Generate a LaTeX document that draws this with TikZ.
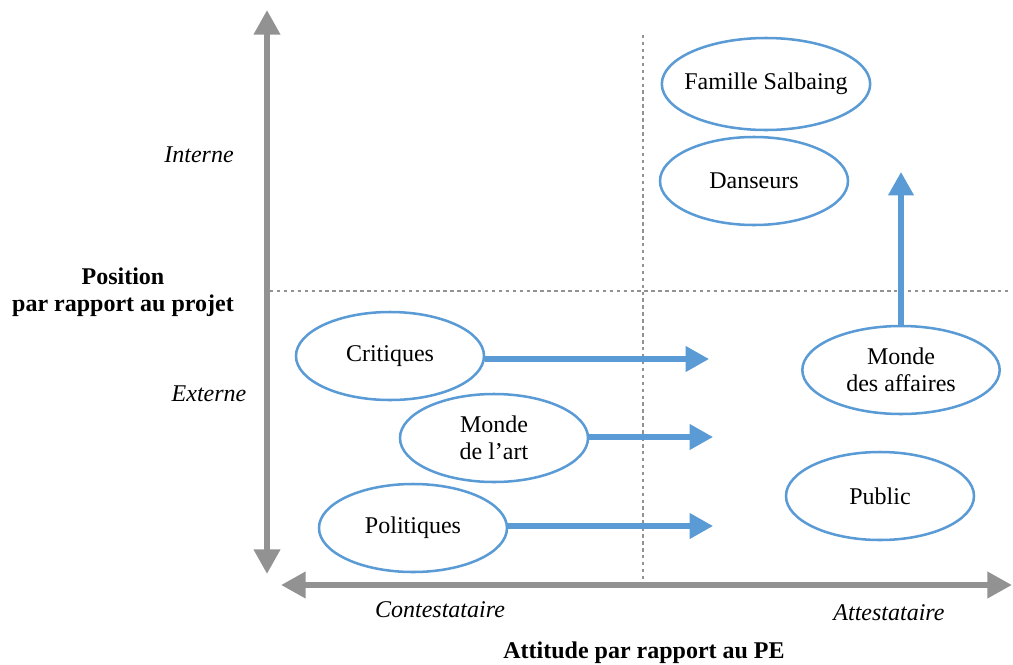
\documentclass[tikz,border=0pt]{standalone}
\usepackage{fontspec}
\setmainfont{Liberation Serif}
\usetikzlibrary{shapes.geometric,arrows.meta}

\definecolor{axisgray}{RGB}{146,146,146}
\definecolor{groupblue}{RGB}{91,155,213}

\tikzset{
	group/.style={draw=groupblue, line width=1.9pt, ellipse, inner sep=0pt,
		minimum width=141pt, minimum height=66pt, align=center},
	axis/.style={draw=axisgray, line width=4.5pt,
		{Triangle[length=18.5pt, width=19pt]}-{Triangle[length=18.5pt, width=19pt]}},
	move/.style={draw=groupblue, line width=3.8pt,
		-{Triangle[length=17.5pt, width=18.5pt]}},
	split/.style={draw=axisgray, line width=1.2pt, dash pattern=on 2.6pt off 2.6pt},
	lbl/.style={inner sep=0pt, align=center}
}

\begin{document}
\begin{tikzpicture}[x=0.75pt, y=-0.75pt, font=\fontsize{18}{20}\selectfont]
\useasboundingbox (0,0) rectangle (1013,664);

% axis ends
	\coordinate (vtop) at (267,10);
	\coordinate (vbot) at (267,574);
	\coordinate (hleft) at (281,585);
	\coordinate (hright) at (1012,585);
% quadrant lines
	\coordinate (qtop) at (643,35);
	\coordinate (qbot) at (643,583);
	\coordinate (qleft) at (270,291);
	\coordinate (qright) at (1010,291);

	\draw[split] (qtop) -- (qbot);
	\draw[split] (qleft) -- (qright);

% draw axes
	\draw[axis] (vbot) -- (vtop);
	\draw[axis] (hleft) -- (hright);

% axis labels
	\node[lbl, font=\fontsize{18}{20}\itshape] (interne) at (199,155) {Interne};
	\node[lbl, font=\fontsize{18}{20}\itshape] (externe) at (209,394) {Externe};
	\node[lbl, font=\fontsize{18}{20}\bfseries] (ytitle) at (123,292) {Position\\par rapport au projet};
	\node[lbl, font=\fontsize{18}{20}\itshape] (contest) at (440,610) {Contestataire};
	\node[lbl, font=\fontsize{18}{20}\itshape] (attest) at (889,613) {Attestataire};
	\node[lbl, font=\fontsize{18}{20}\bfseries] (xtitle) at (644,653) {Attitude par rapport au PE};

% groups
	\node[group, inner xsep=-6pt, minimum height=69pt] (famille) at (766,84) {Famille Salbaing};
	\node[group] (danseurs) at (754,181) {Danseurs};
	\node[group] (critiques) at (390,356) {Critiques};
	\node[group] (art) at (494,438) {Monde\\de l'art};
	\node[group] (politiques) at (413,528) {Politiques};
	\node[group, minimum width=148pt] (affaires) at (901,370) {Monde\\des affaires};
	\node[group] (public) at (880,496) {Public};

% movements
	\coordinate (critEnd) at (709,359);
	\coordinate (artEnd) at (713,437);
	\coordinate (polEnd) at (713,526);
	\coordinate (affEnd) at (901,172);

	\draw[move] (critiques.east |- critEnd) -- (critEnd);
	\draw[move] (art.east |- artEnd) -- (artEnd);
	\draw[move] (politiques.east |- polEnd) -- (polEnd);
	\draw[move] (affaires.north) -- (affEnd);
\end{tikzpicture}
\end{document}
